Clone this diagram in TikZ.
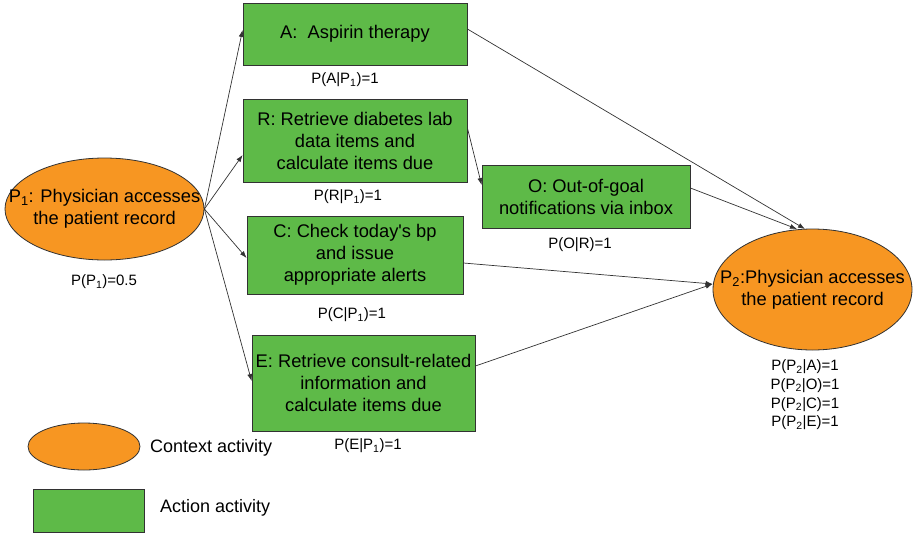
\documentclass[tikz,border=0pt]{standalone}
\usepackage{fontspec}
\setmainfont{Liberation Sans}
\usetikzlibrary{shapes.geometric,arrows.meta}
\definecolor{ctxorange}{RGB}{247,150,34}
\definecolor{actgreen}{RGB}{94,186,72}
\definecolor{edgegray}{RGB}{50,50,50}
\tikzset{
  ctx/.style={ellipse, draw=edgegray, line width=0.8pt, fill=ctxorange,
    inner xsep=-40pt, inner ysep=0pt,
    align=center, font=\fontsize{18.3}{22}\selectfont},
  act/.style={rectangle, draw=edgegray, line width=0.8pt, fill=actgreen, inner sep=0pt,
    align=center, font=\fontsize{18.3}{22}\selectfont},
  prob/.style={align=center, inner sep=0pt, font=\fontsize{15}{18.7}\selectfont},
  legtext/.style={anchor=west, inner sep=0pt, font=\fontsize{18}{20}\selectfont},
  link/.style={draw=edgegray, line width=0.7pt, -{Latex[length=7pt,width=5pt]}}
}
\begin{document}
\begin{tikzpicture}[x=1pt,y=-1pt]
\useasboundingbox (0,0) rectangle (913,536);

% context activities
\node[ctx, minimum width=199, minimum height=102] (P1) at (104.5,209)
  {P\textsubscript{1}: Physician accesses\\the patient record};
\node[ctx, minimum width=199, minimum height=121] (P2) at (812.5,289.5)
  {P\textsubscript{2}:Physician accesses\\the patient record};

% action activities
\node[act, minimum width=224, minimum height=62] (A) at (355,34) {A:~ Aspirin therapy};
\node[act, minimum width=224, minimum height=83] (R) at (355,140.5)
  {R: Retrieve diabetes lab\\data items and\\calculate items due};
\node[act, minimum width=216, minimum height=78] (C) at (355,255)
  {C: Check today\textquotesingle s bp\\and issue\\appropriate alerts};
\node[act, minimum width=223, minimum height=96] (E) at (363.5,383)
  {E: Retrieve consult-related\\information and\\calculate items due};
\node[act, minimum width=208, minimum height=63] (O) at (586,196.5)
  {O: Out-of-goal\\notifications via inbox};

% probabilities
\node[prob] (pP1) at (104,282) {P(P\textsubscript{1})=0.5};
\node[prob] (pA) at (345,80) {P(A|P\textsubscript{1})=1};
\node[prob] (pR) at (348,197) {P(R|P\textsubscript{1})=1};
\node[prob] (pC) at (352,315) {P(C|P\textsubscript{1})=1};
\node[prob] (pE) at (368,446) {P(E|P\textsubscript{1})=1};
\node[prob] (pO) at (580,245) {P(O|R)=1};
\node[prob] (pP2) at (805,395) {P(P\textsubscript{2}|A)=1\\P(P\textsubscript{2}|O)=1\\P(P\textsubscript{2}|C)=1\\P(P\textsubscript{2}|E)=1};

% connectors
\path[link] (P1.east) -- (A.west |- 0,30);
\path[link] (P1.east) -- (R.west |- 0,155);
\path[link] (P1.east) -- (C.west |- 0,258);
\path[link] (P1.east) -- (E.west |- 0,381);
\path[link] (R.east |- 0,128) -- (O.west |- 0,185);
\path[link] (A.east |- 0,29) -- (805,229) coordinate (a2);
\path[link] (O.east |- 0,188) -- (797,229) coordinate (o2);
\path[link] (C.east |- 0,263) -- (P2.west |- 0,284);
\path[link] (E.east |- 0,366) -- (P2.west |- 0,284);

% legend
\node[ellipse, draw=edgegray, line width=0.8pt, fill=ctxorange, inner sep=0pt, minimum width=112, minimum height=47] (legctx) at (84,446.5) {};
\node[legtext] (legctxt) at (150,448) {Context activity};
\node[rectangle, draw=edgegray, line width=0.8pt, fill=actgreen, inner sep=0pt, minimum width=111, minimum height=43] (legact) at (88.5,510.5) {};
\node[legtext] (legactt) at (160,508) {Action activity};
\end{tikzpicture}
\end{document}
